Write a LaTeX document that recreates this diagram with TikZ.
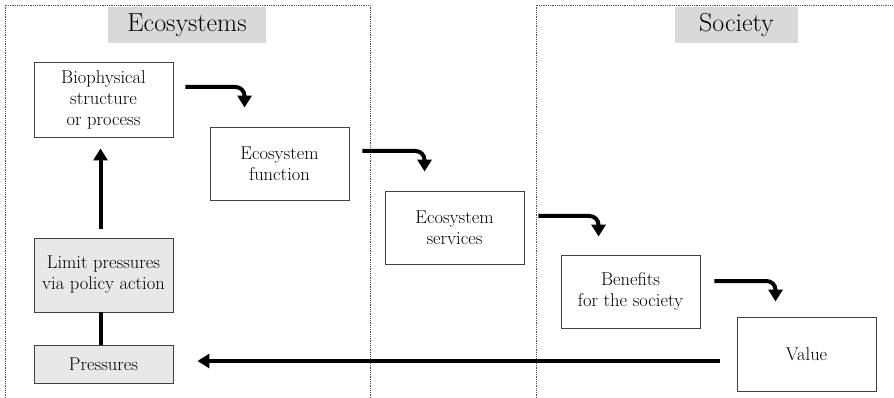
\documentclass[tikz,border=0pt]{standalone}
\usetikzlibrary{arrows.meta,calc}
\definecolor{boxline}{HTML}{404040}
\definecolor{lightfill}{HTML}{E8E8E8}
\definecolor{titlefill}{HTML}{D9D9D9}
\definecolor{zoneline}{HTML}{505050}
\begin{document}
\begin{tikzpicture}[x=1pt,y=-1pt,
  stagebox/.style={draw=boxline,line width=0.9pt,fill=white,minimum width=139pt,minimum height=73pt,
    align=center,inner sep=2pt,font=\fontsize{18.5}{21}\selectfont},
  greybox/.style={stagebox,fill=lightfill},
  titlebox/.style={fill=titlefill,minimum height=36pt,inner sep=0pt,font=\fontsize{26}{28}\selectfont},
  zone/.style={draw=zoneline,densely dotted,line width=0.8pt},
  flow/.style={line width=4pt,-{Triangle[width=14pt,length=12pt]}},
  bentflow/.style={flow,rounded corners=9pt},
  plain/.style={line width=4pt}]
\useasboundingbox (0,0) rectangle (894,398);
% zones
\draw[zone] (5,398) -- (5,5) -- (370,5) -- (370,398);
\draw[zone] (536,398) -- (536,5) -- (894,5);
\node[titlebox,minimum width=158pt] (tEco) at (187,25) {Ecosystems};
\node[titlebox,minimum width=123pt] (tSoc) at (736.5,25) {Society};
% boxes
\node[stagebox,minimum height=75pt] (bio) at (103.5,99.5) {Biophysical\\structure\\or process};
\node[stagebox] (fun) at (279.5,163.5) {Ecosystem\\function};
\node[stagebox] (ser) at (454.5,227.5) {Ecosystem\\services};
\node[stagebox] (ben) at (630.5,291.5) {Benefits\\for the society};
\node[stagebox,minimum height=74pt] (val) at (806.5,354) {Value};
\node[greybox,minimum height=74pt] (lim) at (103.5,275) {Limit pressures\\via policy action};
\node[greybox,minimum height=38pt] (pre) at (103.5,364) {Pressures};
% bent arrows
\draw[bentflow] ($(bio.east)+(12,-12.5)$) -| ($(fun.north west)+(35,-19)$);
\draw[bentflow] ($(fun.east)+(13,-12.5)$) -| ($(ser.north west)+(40,-19)$);
\draw[bentflow] ($(ser.east)+(14,-11.5)$) -| ($(ben.north west)+(38,-18)$);
\draw[bentflow] ($(ben.east)+(14,-10.5)$) -| ($(val.north west)+(39,-15)$);
% vertical
\draw[flow] ($(lim.north)+(-3,-9)$) -- ($(bio.south)+(-3,11)$);
\draw[plain] ($(pre.north)+(-3,0)$) -- ($(lim.south)+(-3,0)$);
% return arrow
\coordinate (rs) at ($(val.west)+(-17,7)$);
\coordinate (rt) at ($(pre.east)+(24,0)$);
\draw[flow] (rs) -- (rs -| rt);
\end{tikzpicture}
\end{document}
